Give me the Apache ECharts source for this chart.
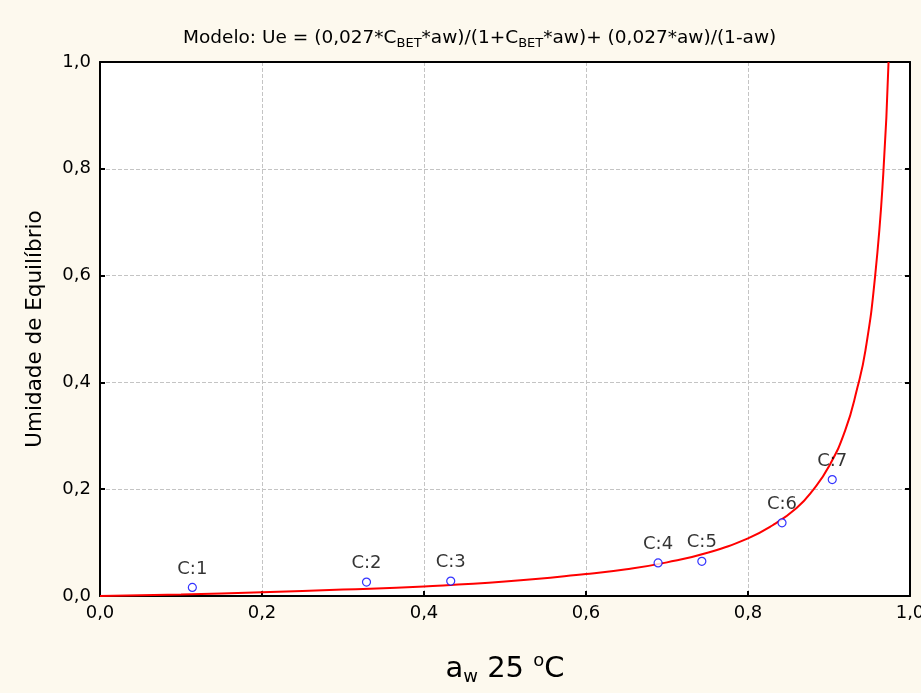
<!DOCTYPE html>
<html lang="pt">
<head>
    <meta charset="UTF-8">
    <title>Modelo BET</title>
    <script src="https://cdn.jsdelivr.net/npm/echarts@6/dist/echarts.min.js"></script>
    <style>
        html, body { margin: 0; padding: 0; background: #fdf9ee; }
        #chart1 { width: 921px; height: 693px; }
    </style>
</head>
<body>
<div id="chart1"></div>
<script>
    // pontos experimentais (aw, Ue)
    var pointNames = ['C:1', 'C:2', 'C:3', 'C:4', 'C:5', 'C:6', 'C:7'];
    var pointX = [0.114, 0.329, 0.433, 0.689, 0.743, 0.842, 0.904];
    var pointY = [0.016, 0.026, 0.028, 0.062, 0.065, 0.137, 0.218];

    // curva do modelo
    var curveX = [0, 0.1, 0.2, 0.3, 0.4, 0.5, 0.6, 0.65, 0.7, 0.75, 0.8, 0.83, 0.86, 0.88, 0.9, 0.92, 0.935, 0.945, 0.957, 0.967, 0.9735];
    var curveY = [0, 0.003, 0.007, 0.012, 0.018, 0.027, 0.041, 0.050, 0.063, 0.081, 0.108, 0.132, 0.165, 0.198, 0.243, 0.31, 0.39, 0.46, 0.60, 0.79, 1.0];

    var tickLabels = ['0,0', '0,2', '0,4', '0,6', '0,8', '1,0'];

    var font = 'DejaVu Sans, sans-serif';

    function fmt(v) {
        return tickLabels[Math.round(v / 0.2)];
    }

    var pts = pointX.map(function (x, i) { return [x, pointY[i], pointNames[i]]; });
    var curve = curveX.map(function (x, i) { return [x, curveY[i]]; });

    var myChart1 = echarts.init(document.getElementById('chart1'));
    myChart1.setOption({
        backgroundColor: '#fdf9ee',
        animation: false,
        title: {
            text: 'Modelo: Ue = (0,027*C{s|BET}*aw)/(1+C{s|BET}*aw)+ (0,027*aw)/(1-aw)',
            left: 178,
            top: 21,
            textStyle: {
                fontFamily: font, fontSize: 18.5, fontWeight: 'normal', color: '#000',
                lineHeight: 24,
                rich: {
                    s: { fontFamily: font, fontSize: 13, color: '#000', verticalAlign: 'bottom', lineHeight: 14 }
                }
            }
        },
        grid: {
            left: 100, right: 11, top: 62, bottom: 97,
            outerBoundsMode: 'none', containLabel: false,
            show: true, backgroundColor: '#fff', borderWidth: 0
        },
        xAxis: [{
            type: 'value', min: 0, max: 1, interval: 0.2,
            name: '{a|a}{s|w}{a| 25 }{o|o}{a|C}',
            nameLocation: 'middle', nameGap: 56,
            nameTextStyle: {
                rich: {
                    a: { fontFamily: font, fontSize: 29, color: '#000', lineHeight: 34 },
                    s: { fontFamily: font, fontSize: 18, color: '#000', verticalAlign: 'bottom', lineHeight: 18 },
                    o: { fontFamily: font, fontSize: 18, color: '#000', verticalAlign: 'top', lineHeight: 18 }
                }
            },
            axisLine: { show: true, onZero: false, lineStyle: { color: '#000', width: 2 } },
            axisTick: { show: true, inside: true, length: 5, lineStyle: { color: '#000', width: 2 } },
            axisLabel: { fontFamily: font, fontSize: 18, color: '#000', margin: 8, formatter: fmt, hideOverlap: false },
            splitLine: { show: true, lineStyle: { color: '#c4c4c4', type: 'dashed', width: 1 } }
        }, {
            type: 'value', min: 0, max: 1, interval: 0.2, position: 'top',
            axisLine: { show: true, onZero: false, lineStyle: { color: '#000', width: 2 } },
            axisTick: { show: false }, axisLabel: { show: false }, splitLine: { show: false }
        }],
        yAxis: [{
            type: 'value', min: 0, max: 1, interval: 0.2,
            name: 'Umidade de Equilíbrio',
            nameLocation: 'middle', nameGap: 54,
            nameTextStyle: { fontFamily: font, fontSize: 21.5, color: '#000' },
            axisLine: { show: true, onZero: false, lineStyle: { color: '#000', width: 2 } },
            axisTick: { show: true, inside: true, length: 5, lineStyle: { color: '#000', width: 2 } },
            axisLabel: { fontFamily: font, fontSize: 18, color: '#000', margin: 9, formatter: fmt },
            splitLine: { show: true, lineStyle: { color: '#c4c4c4', type: 'dashed', width: 1 } }
        }, {
            type: 'value', min: 0, max: 1, interval: 0.2, position: 'right',
            axisLine: { show: true, onZero: false, lineStyle: { color: '#000', width: 2 } },
            axisTick: { show: true, inside: true, length: 5, lineStyle: { color: '#000', width: 2 } },
            axisLabel: { show: false }, splitLine: { show: false }
        }],
        series: [{
            name: 'modelo',
            type: 'line',
            data: curve,
            smooth: true,
            showSymbol: false,
            clip: true,
            lineStyle: { color: '#ff0000', width: 2 },
            z: 3
        }, {
            name: 'dados',
            type: 'scatter',
            data: pts,
            symbol: 'circle',
            symbolSize: 8,
            itemStyle: { color: '#fff', borderColor: '#0000ff', borderWidth: 1.2 },
            label: {
                show: true, position: 'top', distance: 5,
                fontFamily: font, fontSize: 18, color: '#000',
                formatter: function (p) { return p.data[2]; }
            },
            z: 4
        }]
    });
</script>
</body>
</html>
